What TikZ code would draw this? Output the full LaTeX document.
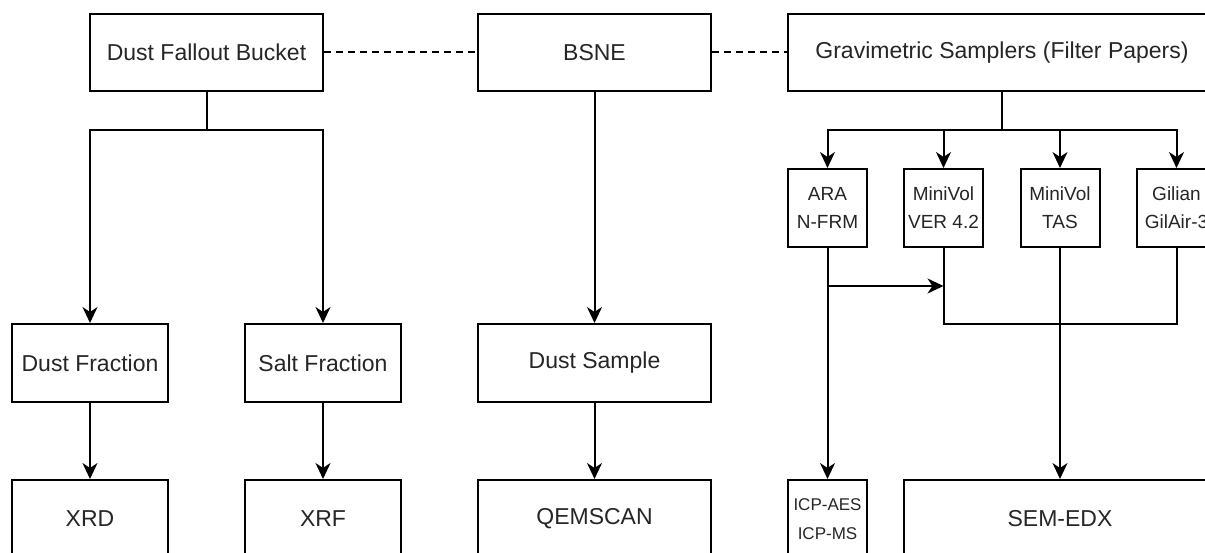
\documentclass[tikz,border=0pt]{standalone}
\usepackage{fontspec}
\setmainfont{Liberation Sans}
\usetikzlibrary{arrows.meta}
\begin{document}
\begin{tikzpicture}[x=1pt,y=-1pt,
  box/.style={draw=black, line width=2pt, fill=white, inner sep=0pt, text=black!85,
    align=center, font=\fontsize{23}{27}\selectfont},
  wide/.style={minimum width=233pt, minimum height=77pt},
  mid/.style={minimum width=156pt, minimum height=78pt},
  small/.style={minimum width=79pt, minimum height=78pt, font=\fontsize{19}{28}\selectfont},
  tiny/.style={minimum width=79pt, minimum height=78pt, font=\fontsize{17}{29}\selectfont},
  link/.style={line width=2pt, draw=black},
  arr/.style={link, -{Stealth[length=16pt, width=15pt, inset=5pt]}},
  dashlink/.style={link, dash pattern=on 7pt off 5pt}]
\useasboundingbox (0,0) rectangle (1205,553);
\clip (0,0) rectangle (1205,553);
% top row
\node[box, wide] (bucket) at (206.5,52.5) {Dust Fallout Bucket};
\node[box, wide] (bsne) at (594.5,52.5) {BSNE};
\node[box, minimum width=428pt, minimum height=77pt] (grav) at (1002,52.5) {Gravimetric Samplers (Filter Papers)};
% middle row
\node[box, mid] (dustfrac) at (90,363) {Dust Fraction};
\node[box, mid] (saltfrac) at (323,363) {Salt Fraction};
\node[box, minimum width=233pt, minimum height=78pt] (dustsample) at (594.5,363) {Dust Sample};
% bottom row
\node[box, mid] (xrd) at (90,519) {XRD};
\node[box, mid] (xrf) at (323,519) {XRF};
\node[box, minimum width=233pt, minimum height=78pt] (qemscan) at (594.5,519) {QEMSCAN};
% samplers
\node[box, small] (ara) at (827.5,208) {ARA\\N-FRM};
\node[box, small] (mvver) at (943.5,208) {MiniVol\\VER 4.2};
\node[box, small] (mvtas) at (1060,208) {MiniVol\\TAS};
\node[box, small] (gilian) at (1176.5,208) {Gilian\\GilAir-3};
\node[box, tiny] (icp) at (827.5,519) {ICP-AES\\ICP-MS};
\node[box, minimum width=312pt, minimum height=78pt] (sem) at (1060,519) {SEM-EDX};
% dashed links
\draw[dashlink] (bucket.east) -- (bsne.west);
\draw[dashlink] (bsne.east) -- (grav.west);
% bucket branches
\coordinate (bsplit) at (206.5,130);
\draw[link] (bucket.south) -- (bsplit);
\draw[arr] (bsplit) -| (dustfrac.north);
\draw[arr] (bsplit) -| (saltfrac.north);
\draw[arr] (bsne.south) -- (dustsample.north);
\draw[arr] (dustfrac.south) -- (xrd.north);
\draw[arr] (saltfrac.south) -- (xrf.north);
\draw[arr] (dustsample.south) -- (qemscan.north);
% gravimetric branches
\coordinate (gsplit) at (1002,130);
\draw[link] (grav.south) -- (gsplit);
\draw[arr] (gsplit) -| (ara.north);
\draw[arr] (gsplit) -| (mvver.north);
\draw[arr] (gsplit) -| (mvtas.north);
\draw[arr] (gsplit) -| (gilian.north);
\draw[arr] (ara.south) -- (icp.north);
\coordinate (arajoin) at (827.5,286);
\coordinate (mvjoin) at (943.5,286);
\draw[arr] (arajoin) -- (mvjoin);
\coordinate (mvbottom) at (943.5,324);
\draw[link] (mvver.south) -- (mvbottom) -| (gilian.south);
\draw[arr] (mvtas.south) -- (sem.north);
\end{tikzpicture}
\end{document}
